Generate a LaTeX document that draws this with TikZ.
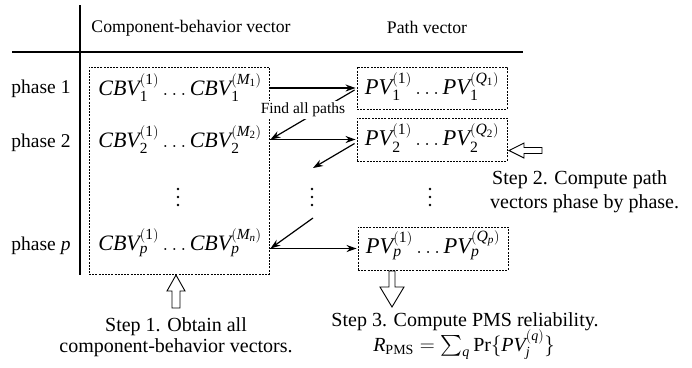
\documentclass[tikz,border=0pt]{standalone}
\usepackage{exscale}
\usepackage{mathspec}
\setmainfont{Liberation Serif}
\setmathsfont(Digits,Latin){Liberation Serif}
\setmathrm{Liberation Serif}
\usetikzlibrary{arrows.meta,calc}
\begin{document}
\begin{tikzpicture}[x=1pt,y=-1pt,
  rule/.style={line width=1.4pt},
  dbox/.style={draw, dash pattern=on 2pt off 1.2pt, line width=0.9pt, inner sep=0pt},
  arr/.style={-{Stealth[length=10pt,width=7pt]}, line width=1.2pt},
  hollow/.style={draw, line width=0.9pt, fill=white, line join=miter},
  hdr/.style={font=\fontsize{17.7}{20}\selectfont, inner sep=0pt},
  ph/.style={font=\fontsize{19.5}{22}\selectfont, anchor=base, inner sep=0pt},
  vec/.style={font=\fontsize{22}{25}\selectfont, anchor=base, inner sep=0pt},
  pvec/.style={font=\fontsize{22.5}{25}\selectfont, anchor=base, inner sep=0pt},
  stp/.style={font=\fontsize{20}{23}\selectfont, anchor=base, inner sep=0pt},
  vdot/.style={circle, fill=black, inner sep=0pt, minimum size=2.8pt},
  fnd/.style={font=\fontsize{15.5}{18}\selectfont, fill=white, inner sep=1.5pt}]
\useasboundingbox (0,0) rectangle (692,367);

% table rules
\draw[rule] (80,5) -- (80,275);
\draw[rule] (12,52) -- (523,52);

% headers
\node[hdr] (hA) at (191,28) {Component-behavior vector};
\node[hdr] (hB) at (427,27) {Path vector};

% phase labels
\node[ph] (p1) at (41,93) {phase 1};
\node[ph] (p2) at (41,147) {phase 2};
\node[ph] (pp) at (41,250) {phase $p$};

% component-behavior box
\node[dbox, minimum width=180pt, minimum height=207pt] (cbv) at (179,170.5) {};
\node[vec] (c1) at (180,95) {$CBV_1^{(1)}\ldots CBV_1^{(M_1)}$};
\node[vec] (c2) at (180,147) {$CBV_2^{(1)}\ldots CBV_2^{(M_2)}$};
\node[vec] (cp) at (180,250) {$CBV_p^{(1)}\ldots CBV_p^{(M_n)}$};

% path vector boxes
\node[dbox, minimum width=150pt, minimum height=42pt] (pv1) at (432,88) {};
\node[dbox, minimum width=150pt, minimum height=43pt] (pv2) at (432,139.5) {};
\node[dbox, minimum width=150pt, minimum height=43pt] (pvp) at (433,248.5) {};
\node[pvec] (t1) at (432,94) {$PV_1^{(1)}\ldots PV_1^{(Q_1)}$};
\node[pvec] (t2) at (432,145.5) {$PV_2^{(1)}\ldots PV_2^{(Q_2)}$};
\node[pvec] (tp) at (433,253) {$PV_p^{(1)}\ldots PV_p^{(Q_p)}$};

% vertical dots
\foreach \nm/\xx in {dl/178, dm/312, dr/430}{
  \node[vdot] (\nm1) at (\xx,189) {};
  \node[vdot] (\nm2) at (\xx,197) {};
  \node[vdot] (\nm3) at (\xx,205) {};
}

% row arrows
\draw[arr] (cbv.east |- pv1.west) -- ($(pv1.west)+(-1,0)$);
\draw[arr] (cbv.east |- pv2.west) -- ($(pv2.west)+(-1,0)$);
\draw[arr] (cbv.east |- pvp.west) -- ($(pvp.west)+(-1,0)$);

% diagonal arrows
\draw[arr] ($(pv1.west)+(-2,2)$) -- ($(cbv.east |- pv2.west)+(1,0)$);
\node[fnd] (fap) at (303,110) {Find all paths};
\coordinate (d1e) at (313,168);
\draw[arr] ($(pv2.west)+(-2,4)$) -- (d1e);
\coordinate (d2s) at (313,218);
\draw[arr] (d2s) -- ($(cbv.east |- pvp.west)+(1,0)$);

% hollow arrows
\draw[hollow] (176,275) -- (185,291) -- (180,291) -- (180,308) -- (172,308) -- (172,291) -- (167,291) -- cycle;
\draw[hollow] (509,150.5) -- (524,143) -- (524,147.5) -- (542,147.5) -- (542,153.5) -- (524,153.5) -- (524,158) -- cycle;
\draw[hollow] (392,307) -- (380,287) -- (389,287) -- (389,271) -- (395,271) -- (395,287) -- (404,287) -- cycle;

% step texts
\node[stp] (s1a) at (176,331) {Step 1. Obtain all};
\node[stp] (s1b) at (176,352) {component-behavior vectors.};
\node[stp, anchor=base west] (s2a) at (492,184) {Step 2. Compute path};
\node[stp, anchor=base west] (s2b) at (490,208) {vectors phase by phase.};
\node[stp] (s3a) at (465,326) {Step 3. Compute PMS reliability.};
\node[stp] (s3b) at (464,351) {$R_{\mathrm{PMS}}=\sum_q \mathrm{Pr}\{PV_j^{(q)}\}$};
\end{tikzpicture}
\end{document}
